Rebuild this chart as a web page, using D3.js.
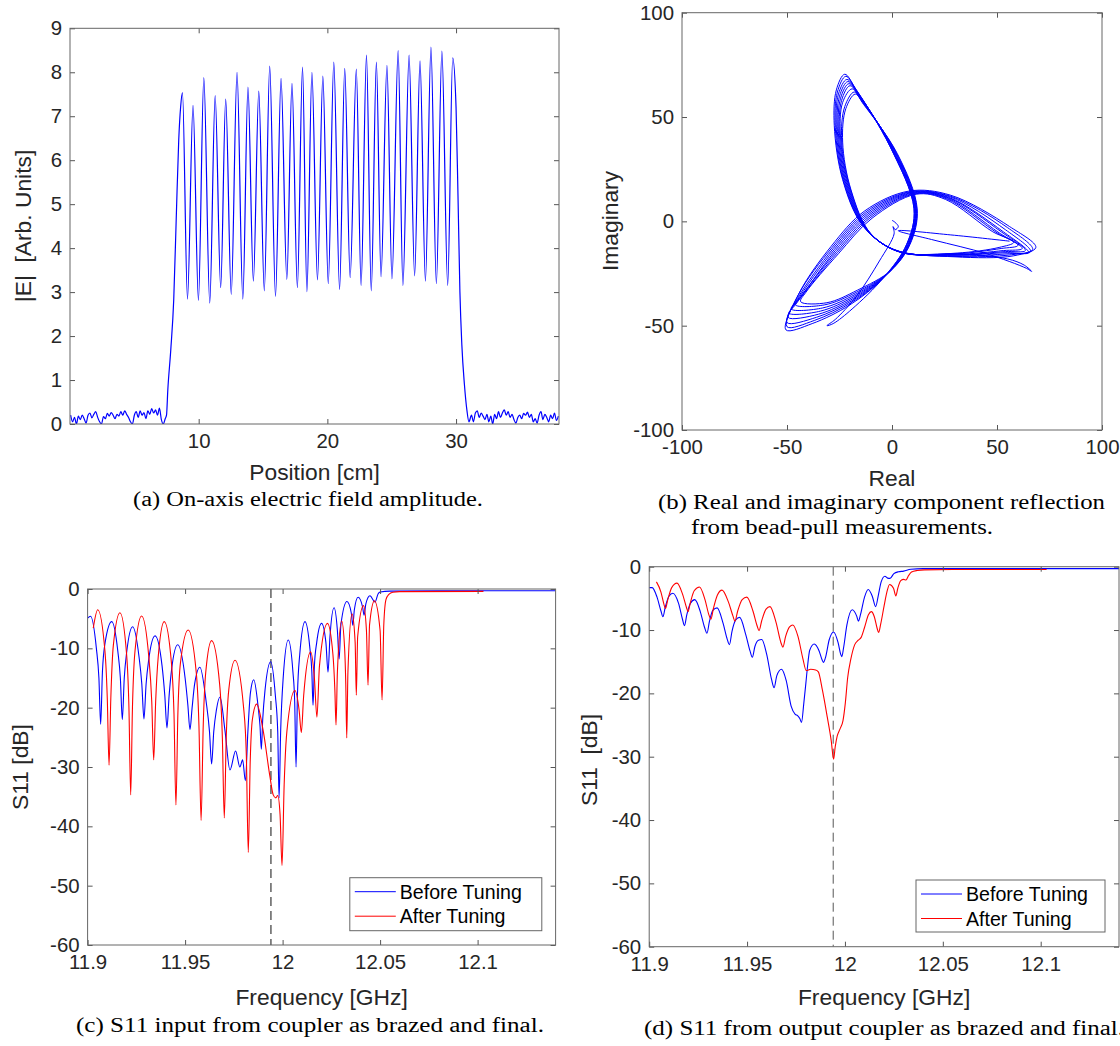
<!DOCTYPE html>
<html>
<head>
<meta charset="utf-8">
<script src="https://cdn.jsdelivr.net/npm/d3@7"></script>
<style>
  body { margin: 0; background: #fff; }
  svg { display: block; }
  .lbl { font-family: "Liberation Sans", Arial, sans-serif; fill: #262626; }
  .caption { font-family: "Liberation Serif", "Times New Roman", serif; fill: #000; }
</style>
</head>
<body>
<svg id="fig" width="1120" height="1046"></svg>
<script>
// ---- (a) on-axis field, [position cm, |E|] ----
const fieldProfile = [
  [0.05,0.2],[0.2,0.05],[0.35,0.15],[0.5,0.0],[0.65,0.18],[0.8,0.1],[0.95,0.2],[1.1,0.12],[1.25,0.02],[1.4,0.2],
  [1.55,0.25],[1.7,0.14],[1.85,0.22],[2.0,0.28],[2.15,0.15],[2.3,0.05],[2.45,0.0],[2.6,0.17],[2.75,0.12],[2.9,0.24],
  [3.05,0.18],[3.2,0.26],[3.35,0.2],[3.5,0.12],[3.65,0.22],[3.8,0.18],[3.95,0.28],[4.1,0.2],[4.25,0.3],[4.4,0.22],
  [4.55,0.15],[4.7,0.05],[4.85,0.0],[5.0,0.2],[5.15,0.28],[5.3,0.15],[5.45,0.3],[5.6,0.2],[5.75,0.26],[5.9,0.12],
  [6.05,0.3],[6.2,0.22],[6.35,0.35],[6.5,0.25],[6.65,0.32],[6.8,0.2],[6.95,0.36],[7.1,0.1],[7.25,0.0],[7.4,0.12],
  [7.5,0.2],[7.6,0.77],[7.83,1.68],[8.06,2.82],[8.26,4.72],[8.45,6.46],[8.6,7.22],
  [8.74,7.54],[9.13,2.84],[9.56,7.25],[9.98,2.81],[10.40,7.88],[10.86,2.75],[11.28,7.47],[11.71,3.10],
  [12.10,7.39],[12.53,2.95],[12.98,8.00],[13.43,2.84],[13.83,7.66],[14.25,3.25],[14.67,7.57],[15.10,3.03],
  [15.52,8.14],[15.97,2.90],[16.40,7.86],[16.85,3.29],[17.25,7.75],[17.67,3.10],[18.07,8.12],[18.41,3.01],
  [18.80,8.00],[19.23,3.28],[19.65,7.91],[20.07,3.19],[20.50,8.23],[20.95,3.06],[21.35,8.09],[21.77,3.33],
  [22.25,8.07],[22.62,3.15],[23.04,8.39],[23.41,3.03],[23.81,8.23],[24.17,3.35],[24.63,8.16],[25.02,3.30],
  [25.50,8.49],[25.87,3.15],[26.35,8.39],[26.78,3.37],[27.20,8.26],[27.62,3.25],[28.05,8.57],[28.47,3.19],
  [28.90,8.48],[29.35,3.15],[29.74,8.33],
  [30.0,7.2],[30.15,5.2],[30.3,3.0],[30.45,1.8],[30.65,0.9],[30.85,0.3],[31.0,0.05],
  [31.2,0.2],[31.35,0.05],[31.5,0.25],[31.65,0.3],[31.8,0.15],[31.95,0.25],[32.1,0.18],[32.25,0.1],[32.4,0.22],
  [32.55,0.05],[32.7,0.18],[32.85,0.0],[33.0,0.22],[33.15,0.12],[33.3,0.28],[33.45,0.15],[33.6,0.25],[33.75,0.32],
  [33.9,0.2],[34.05,0.28],[34.2,0.15],[34.35,0.22],[34.5,0.1],[34.65,0.02],[34.8,0.15],[34.95,0.2],[35.1,0.12],
  [35.25,0.24],[35.4,0.2],[35.55,0.27],[35.7,0.15],[35.85,0.22],[36.0,0.05],[36.15,0.12],[36.3,0.02],[36.45,0.2],
  [36.6,0.28],[36.75,0.1],[36.9,0.22],[37.05,0.15],[37.2,0.05],[37.35,0.2],[37.5,0.12],[37.65,0.25],[37.8,0.08],[37.95,0.18]
];
const posTicks = [10, 20, 30];
const fieldTicks = [0, 1, 2, 3, 4, 5, 6, 7, 8, 9];

// ---- (b) bead-pull reflection, [real, imaginary] ----
const beadEntry = [
  [0,0.5],[1.5,-0.5],[3,-2.5],[1.5,-4],[0.5,-2.5],[1,-6],[-6,-19],[-17,-36],[-27,-47],[-31,-50],[-28,-49],
  [-19,-42],[-4,-27],[7,-11],[10.5,6],[-1,36],[-17,63]
];
const beadLoops = [
  [[-22.5,70.5],[-26.5,63],[-27.5,46],[-23.5,20],[-14,-2],[1,-13.5],[30,-17],[58,-16.5],[68.5,-12.5],[56,-2.5],[28,12.5],[8,14.5],[-13,5],[-29,-12],[-44,-34],[-50.5,-52],[-38,-49],[-20,-40],[-4,-27],[7,-11],[10.5,6],[-1,36],[-17,63]],
  [[-22,69.5],[-26,62],[-27,45],[-23,19],[-13.5,-2.5],[1.5,-13.8],[30,-16.8],[57,-16],[67,-13.5],[55,-3],[28,12],[8.5,14.2],[-12.5,4.5],[-28.5,-12.5],[-44.5,-35],[-50,-50.5],[-37,-47.5],[-19.5,-39],[-3.5,-26.5],[7.3,-11],[10.8,6],[-0.5,35.5],[-16.5,62]],
  [[-21.5,68],[-25.5,61],[-26.5,44],[-22.5,18.5],[-13,-3],[2,-14],[30,-16.5],[56,-15.5],[66,-14.5],[54,-4],[27.5,11.8],[9,14],[-12,4],[-28,-13],[-45,-37],[-50,-48.5],[-36,-46],[-19,-38],[-3,-26],[7.6,-11],[11,6],[0,35],[-16,61]],
  [[-21,67],[-25,60],[-26,43],[-22,18],[-12.5,-3.5],[2.5,-14.2],[30,-16.2],[55,-15],[65,-15],[53,-5],[27,11.5],[9.5,13.8],[-11.5,3.5],[-27.5,-13.5],[-45.5,-38.5],[-49.5,-46],[-35,-44.5],[-18.5,-37],[-2.5,-25.5],[7.8,-11],[11.2,6],[0.5,34.5],[-15.5,60]],
  [[-20.5,66],[-24.5,59],[-25.5,42],[-21.5,17.5],[-12,-4],[3,-14.4],[31,-16],[54,-14.5],[63.5,-14],[52,-5],[27,11.2],[10,13.6],[-11,3],[-27,-14],[-46,-40],[-49,-44],[-34,-43],[-18,-36],[-2,-25],[8,-11],[11.4,6],[1,34],[-15,59]],
  [[-20,65],[-24,58],[-25,41],[-21,17],[-11.5,-4.5],[3.5,-14.6],[31,-15.8],[53,-14],[62,-13],[51,-5.5],[26.5,11],[10.5,13.4],[-10.5,2.5],[-26.5,-14.5],[-45,-38],[-48,-42],[-33,-41.5],[-17.5,-35],[-1.5,-24.5],[8.2,-11],[11.6,6],[1.5,33.5],[-14.5,58]],
  [[-19,63.5],[-23.5,57],[-24.5,40],[-20.5,16.5],[-11,-5],[4,-14.8],[31,-15.5],[52,-13],[60,-11.5],[50,-5.5],[26,10.8],[11,13.2],[-10,2],[-26,-15],[-43,-36],[-46,-40],[-32,-40],[-17,-34],[-1,-24],[8.4,-11],[11.8,6],[2,33],[-14,57]],
  [[-18,62],[-22.5,55],[-24,39],[-20,16],[-10.5,-5.5],[4.5,-15],[31,-15.2],[51,-12.5],[58,-10],[48,-5],[25.5,10.5],[11.5,13],[-9.5,1.5],[-25.5,-15.5],[-41,-34],[-43.5,-38.5],[-31,-39],[-16.5,-33],[-0.5,-23.5],[8.6,-11],[12,6],[2.5,32.5],[-13.5,56]]
];
const beadExit = [
  [-17.5,61],[-22,54],[-23.5,38],[-19.5,15],[-10,-6],[5,-15],[32,-15.5],[55,-18],[63,-21],[66.5,-24],[64,-22.5],
  [45,-15.5],[20,-9],[3,-4.5],[28,-6.5],[56,-9.5]
];
const reTicks = [-100, -50, 0, 50, 100];
const imTicks = [-100, -50, 0, 50, 100];

// ---- (c) S11 input coupler, [GHz, dB] ----
const inputBefore = [
  [11.9,-4.9],[11.9015,-4.6],
  [11.9045,-10],[11.9058,-15],[11.9067,-22.8],[11.9076,-14],[11.9090,-9],[11.9124,-5.5],
  [11.9155,-10.5],[11.9168,-15],[11.9178,-22.0],[11.9188,-15],[11.9201,-10.5],[11.9231,-6.35],
  [11.9264,-11.5],[11.9278,-16],[11.9289,-21.9],[11.9300,-16],[11.9313,-12],[11.9346,-7.9],
  [11.9382,-13],[11.9396,-18],[11.9407,-23.4],[11.9418,-18],[11.9431,-13.5],[11.9462,-9.4],
  [11.9500,-15],[11.9514,-19.5],[11.9525,-23.7],[11.9536,-20],[11.9549,-16],[11.9576,-13.2],
  [11.9608,-19],[11.9625,-24],[11.9636,-29.5],[11.9647,-24],[11.9660,-20.5],[11.9679,-18.2],
  [11.9705,-24],[11.9730,-30.5],[11.9759,-27.3],[11.9781,-30.0],[11.9795,-28.8],[11.9809,-32.3],
  [11.9822,-24],[11.9835,-17.5],[11.9852,-15.3],
  [11.9875,-20],[11.9884,-23],[11.9891,-27.0],[11.9898,-22],[11.9910,-17],[11.9939,-12.25],
  [11.9963,-18],[11.9975,-24],[11.9982,-35.2],[11.9990,-24],[12.0003,-15],[12.0029,-8.6],
  [12.0053,-14],[12.0062,-19],[12.0069,-30.0],[12.0076,-18],[12.0088,-11],[12.0115,-5.5],
  [12.0140,-10],[12.0150,-14],[12.0156,-19.6],[12.0163,-13],[12.0175,-9],[12.0200,-5.8],
  [12.0222,-9],[12.0233,-14.0],[12.0243,-8],[12.0264,-3.15],
  [12.0281,-7],[12.0290,-11.8],[12.0299,-6],[12.0330,-2.1],
  [12.0352,-4],[12.0360,-6.1],[12.0368,-3.5],[12.0387,-1.4],
  [12.0410,-3],[12.0418,-4.4],[12.0427,-2.5],[12.0448,-1.15],
  [12.0474,-2.2],[12.0490,-0.8],[12.0500,-0.5],[12.055,-0.35],[12.08,-0.3],[12.14,-0.3]
];
const inputAfter = [
  [11.9029,-6.6],[11.9052,-3.5],
  [11.9089,-10.5],[11.9101,-18.5],[11.9110,-29.7],[11.9119,-18.5],[11.9132,-9.5],[11.9166,-4.0],
  [11.9200,-11],[11.9212,-20],[11.9221,-34.7],[11.9230,-20],[11.9243,-10.5],[11.9277,-4.55],
  [11.9314,-11.5],[11.9329,-19],[11.9339,-28.8],[11.9349,-19],[11.9362,-11.5],[11.9393,-5.5],
  [11.9430,-12.5],[11.9443,-21],[11.9453,-36.4],[11.9463,-21],[11.9476,-12.5],[11.9516,-6.9],
  [11.9557,-14],[11.9571,-23],[11.9582,-39.0],[11.9593,-23],[11.9606,-14],[11.9636,-8.7],
  [11.9677,-16],[11.9691,-25],[11.9701,-38.6],[11.9711,-25],[11.9724,-17],[11.9756,-12.0],
  [11.9800,-20],[11.9814,-28],[11.9824,-44.4],[11.9834,-29],[11.9845,-22],[11.9867,-19.4],
  [11.9900,-23.8],[11.9935,-31.6],[11.9952,-34.7],[11.9965,-35.2],[11.9975,-34.8],[11.9987,-38],
  [11.9997,-46.6],[12.0008,-33],[12.0022,-24],[12.0063,-17.1],
  [12.0085,-20.5],[12.0096,-24.2],[12.0108,-18],[12.0144,-10.6],
  [12.0163,-15],[12.0176,-21.6],[12.0189,-13],[12.0230,-5.8],
  [12.0258,-11],[12.0268,-17],[12.0274,-22.9],[12.0281,-14],[12.0303,-5.4],
  [12.0318,-10],[12.0324,-16],[12.0329,-25.1],[12.0335,-14],[12.0356,-4.2],
  [12.0372,-9],[12.0378,-17.9],[12.0385,-8],[12.0415,-2.8],
  [12.0430,-7],[12.0438,-16.2],[12.0446,-6],[12.0471,-2.0],
  [12.0500,-7],[12.0510,-18.7],[12.0519,-6],[12.0530,-1.8],[12.0545,-0.9],[12.0565,-0.55],
  [12.060,-0.45],[12.103,-0.4]
];

// ---- (d) S11 output coupler, [GHz, dB] ----
const outputBefore = [
  [11.9000,-3.3],[11.9015,-3.3],[11.9040,-4.8],[11.9060,-7.0],[11.9070,-7.9],[11.9082,-6.4],[11.9100,-4.7],
  [11.9121,-4.2],[11.9150,-5.8],[11.9170,-8.3],[11.9180,-9.3],[11.9192,-7.6],[11.9210,-5.8],[11.9233,-5.2],
  [11.9262,-7.2],[11.9283,-9.6],[11.9295,-10.5],[11.9308,-8.6],[11.9325,-6.9],[11.9347,-6.5],[11.9378,-9.0],
  [11.9398,-11.4],[11.9410,-12.3],[11.9423,-10.2],[11.9442,-8.4],[11.9462,-8.0],[11.9494,-10.8],[11.9515,-13.3],
  [11.9527,-14.3],[11.9540,-12.6],[11.9558,-11.6],[11.9575,-11.5],[11.9600,-13.8],[11.9625,-17.8],[11.9638,-19.1],
  [11.9652,-17.2],[11.9676,-16.2],[11.9700,-18.0],[11.9725,-22.0],[11.9746,-23.3],[11.9758,-23.5],[11.9770,-24.0],
  [11.9778,-24.6],[11.9790,-21.5],[11.9800,-18.5],[11.9808,-16.0],[11.9820,-13.2],[11.9843,-12.2],[11.9868,-13.3],
  [11.9883,-14.7],[11.9890,-15.1],[11.9900,-14.4],[11.9920,-11.5],[11.9942,-10.3],[11.9965,-12.0],[11.9978,-13.8],
  [11.9984,-14.2],[11.9993,-12.8],[12.0010,-9.2],[12.0037,-6.8],[12.0060,-7.8],[12.0069,-8.6],[12.0080,-7.5],
  [12.0100,-4.8],[12.0119,-3.6],[12.0140,-4.7],[12.0157,-6.3],[12.0170,-4.6],[12.0185,-2.4],[12.0204,-1.5],
  [12.0218,-1.8],[12.0230,-1.85],[12.0250,-1.1],[12.0274,-0.8],[12.0300,-0.7],[12.0336,-0.4],[12.04,-0.3],[12.14,-0.3]
];
const outputAfter = [
  [11.9037,-2.4],[11.9060,-4.0],[11.9075,-5.9],[11.9083,-6.6],[11.9095,-5.2],[11.9115,-3.3],[11.9142,-2.6],
  [11.9170,-4.3],[11.9190,-6.4],[11.9198,-7.1],[11.9210,-5.7],[11.9230,-3.8],[11.9257,-3.2],[11.9285,-5.2],
  [11.9305,-7.6],[11.9315,-8.3],[11.9328,-6.6],[11.9348,-4.5],[11.9372,-3.7],[11.9405,-5.6],[11.9428,-7.8],
  [11.9438,-8.6],[11.9452,-7.0],[11.9475,-5.2],[11.9499,-4.8],[11.9530,-7.0],[11.9552,-9.4],[11.9561,-10.1],
  [11.9575,-8.5],[11.9597,-6.7],[11.9617,-6.3],[11.9648,-8.8],[11.9673,-12.0],[11.9683,-12.7],[11.9697,-11.0],
  [11.9717,-9.5],[11.9734,-9.2],[11.9760,-11.0],[11.9785,-14.5],[11.9802,-16.4],[11.9825,-16.2],[11.9850,-16.3],
  [11.9864,-16.6],[11.9885,-19.5],[11.9910,-23.8],[11.9930,-27.5],[11.9942,-30.4],[11.9950,-28.5],[11.9960,-26.8],
  [11.9975,-25.6],[11.9990,-24.3],[12.0002,-21.5],[12.0014,-17.5],[12.0030,-14.6],[12.0050,-12.3],[12.0068,-11.6],
  [12.0082,-11.2],[12.0100,-9.6],[12.0120,-7.6],[12.0135,-7.1],[12.0150,-7.9],[12.0165,-9.8],[12.0172,-10.4],
  [12.0183,-9.0],[12.0200,-6.2],[12.0215,-3.9],[12.0228,-2.8],[12.0248,-3.4],[12.0260,-4.6],[12.0270,-3.4],
  [12.0285,-2.2],[12.0300,-2.0],[12.0312,-2.1],[12.0325,-1.4],[12.0340,-0.85],[12.0370,-0.6],[12.0406,-0.5],
  [12.06,-0.45],[12.103,-0.45]
];
const freqTicks = [11.9, 11.95, 12, 12.05, 12.1];
const dbTicks = [-60, -50, -40, -30, -20, -10, 0];
const designFreq = 11.994;
const legendLabels = ['Before Tuning', 'After Tuning'];

const BLUE = '#0000ff', RED = '#ff0000';
const svg = d3.select('#fig');
let clipCount = 0;

function makePanel(o) {
  const x = d3.scaleLinear().domain(o.xDomain).range([o.left, o.right]);
  const y = d3.scaleLinear().domain(o.yDomain).range([o.bottom, o.top]);
  const g = svg.append('g');
  const id = 'clip' + (clipCount++);
  g.append('clipPath').attr('id', id).append('rect')
    .attr('x', o.left).attr('y', o.top)
    .attr('width', o.right - o.left).attr('height', o.bottom - o.top);
  const plot = g.append('g').attr('clip-path', `url(#${id})`);

  const fmt = d => String(d);
  const axes = [
    [d3.axisBottom(x).tickValues(o.xTicks).tickFormat(fmt).tickPadding(10), `translate(0,${o.bottom})`],
    [d3.axisTop(x).tickValues(o.xTicks).tickFormat(''), `translate(0,${o.top})`],
    [d3.axisLeft(y).tickValues(o.yTicks).tickFormat(fmt).tickPadding(8), `translate(${o.left},0)`],
    [d3.axisRight(y).tickValues(o.yTicks).tickFormat(''), `translate(${o.right},0)`]
  ];
  axes.forEach(([axis, tr]) => {
    const a = g.append('g').attr('transform', tr)
      .call(axis.tickSizeInner(-5).tickSizeOuter(0));
    a.select('.domain').remove();
    a.selectAll('line').attr('stroke', '#555');
    a.selectAll('text').attr('class', 'lbl')
      .attr('font-family', null).attr('font-size', 20.4);
  });
  g.append('rect')
    .attr('x', o.left).attr('y', o.top)
    .attr('width', o.right - o.left).attr('height', o.bottom - o.top)
    .attr('fill', 'none').attr('stroke', '#666').attr('stroke-width', 1);

  g.append('text').attr('class', 'lbl').attr('font-size', 22.8)
    .attr('x', (o.left + o.right) / 2).attr('y', o.xLabelY)
    .attr('text-anchor', 'middle').text(o.xLabel);
  g.append('text').attr('class', 'lbl').attr('font-size', 22.8)
    .attr('transform', `translate(${o.yLabelX},${o.yLabelY}) rotate(-90)`)
    .attr('text-anchor', 'middle').text(o.yLabel);
  return {x, y, plot, g};
}

function drawLine(p, data, color, curve, width) {
  p.plot.append('path').datum(data)
    .attr('fill', 'none').attr('stroke', color).attr('stroke-width', width || 1)
    .attr('stroke-linejoin', 'round')
    .attr('d', d3.line().x(d => p.x(d[0])).y(d => p.y(d[1])).curve(curve));
}

function drawLegend(p, box) {
  const g = p.g.append('g');
  g.append('rect').attr('x', box.x).attr('y', box.y).attr('width', box.w).attr('height', box.h)
    .attr('fill', '#fff').attr('stroke', '#666').attr('stroke-width', 1);
  [BLUE, RED].forEach((c, i) => {
    const ly = box.y + 14 + i * 24.5;
    g.append('line').attr('x1', box.x + 5).attr('x2', box.x + 46).attr('y1', ly).attr('y2', ly)
      .attr('stroke', c).attr('stroke-width', 1);
    g.append('text').attr('class', 'lbl').attr('font-size', 19.6).style('fill', '#000')
      .attr('x', box.x + 50).attr('y', ly + 7).text(legendLabels[i]);
  });
}

function designLine(p, color, width) {
  p.plot.append('line')
    .attr('x1', p.x(designFreq)).attr('x2', p.x(designFreq))
    .attr('y1', p.y(0)).attr('y2', p.y(-60))
    .attr('stroke', color).attr('stroke-width', width).attr('stroke-dasharray', '9,5');
}

// (a)
const pa = makePanel({
  left: 70, right: 559, top: 28.3, bottom: 424,
  xDomain: [0, 38], yDomain: [0, 9], xTicks: posTicks, yTicks: fieldTicks,
  xLabel: 'Position [cm]', xLabelY: 480, yLabel: '|E|\u00a0 [Arb. Units]', yLabelX: 31, yLabelY: 226
});
drawLine(pa, fieldProfile, BLUE, d3.curveMonotoneX, 1.2);

// (b)
const pb = makePanel({
  left: 682, right: 1102, top: 12.7, bottom: 430,
  xDomain: [-100, 100], yDomain: [-100, 100], xTicks: reTicks, yTicks: imTicks,
  xLabel: 'Real', xLabelY: 486, yLabel: 'Imaginary', yLabelX: 618, yLabelY: 221
});
const beadTrace = beadEntry.concat(...beadLoops, beadExit);
drawLine(pb, beadTrace, BLUE, d3.curveCatmullRom.alpha(0.5), 1);

// (c)
const pc = makePanel({
  left: 87.6, right: 555.6, top: 589, bottom: 945,
  xDomain: [11.9, 12.14], yDomain: [-60, 0], xTicks: freqTicks, yTicks: dbTicks,
  xLabel: 'Frequency [GHz]', xLabelY: 1005, yLabel: 'S11 [dB]', yLabelX: 28, yLabelY: 767
});
designLine(pc, '#7a7a7a', 1.8);
drawLine(pc, inputBefore, BLUE, d3.curveMonotoneX, 1.1);
drawLine(pc, inputAfter, RED, d3.curveMonotoneX, 1.1);
drawLegend(pc, {x: 349.8, y: 877.7, w: 192, h: 53});

// (d)
const pd = makePanel({
  left: 649.2, right: 1119, top: 566.7, bottom: 946.7,
  xDomain: [11.9, 12.14], yDomain: [-60, 0], xTicks: freqTicks, yTicks: dbTicks,
  xLabel: 'Frequency [GHz]', xLabelY: 1005, yLabel: 'S11\u00a0 [dB]', yLabelX: 597, yLabelY: 760
});
designLine(pd, '#555', 1);
drawLine(pd, outputBefore, BLUE, d3.curveMonotoneX, 1.1);
drawLine(pd, outputAfter, RED, d3.curveMonotoneX, 1.1);
drawLegend(pd, {x: 916, y: 880, w: 189, h: 52});

// captions
const captions = [
  {text: '(a) On-axis electric field amplitude.', x: 133, y: 506, w: 350},
  {text: '(b) Real and imaginary component reflection', x: 658, y: 509, w: 447},
  {text: 'from bead-pull measurements.', x: 691, y: 534, w: 302},
  {text: '(c) S11 input from coupler as brazed and final.', x: 76, y: 1032, w: 468},
  {text: '(d) S11 from output coupler as brazed and final.', x: 644, y: 1035, w: 480}
];
svg.selectAll('text.caption').data(captions).enter().append('text')
  .attr('class', 'caption').attr('font-size', 20)
  .attr('x', d => d.x).attr('y', d => d.y)
  .attr('textLength', d => d.w).attr('lengthAdjust', 'spacingAndGlyphs')
  .text(d => d.text);
</script>
</body>
</html>
